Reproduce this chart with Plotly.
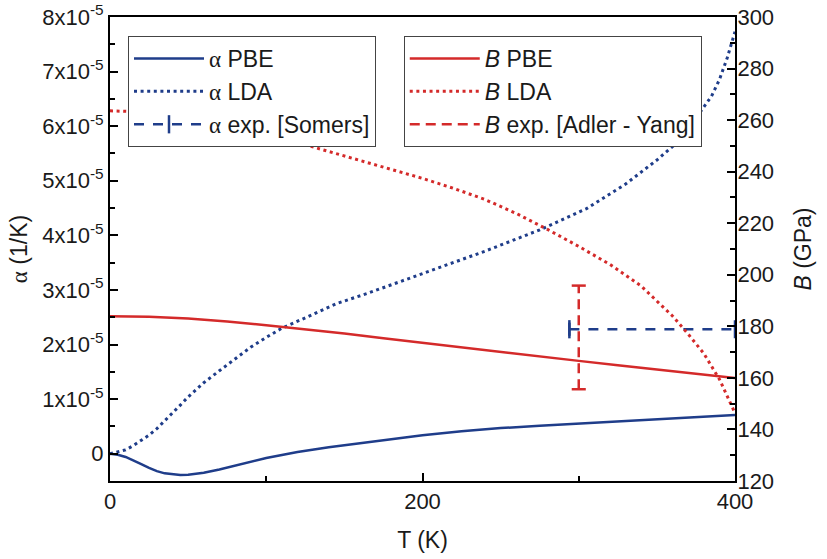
import plotly.graph_objects as go

# ---------------- data ----------------
T_pbe = [0, 5, 10, 15, 20, 25, 30, 35, 40, 45, 50, 55, 60, 70, 80, 90, 100, 120, 140, 160,
         180, 200, 225, 250, 275, 300, 325, 350, 375, 400]
alpha_pbe = [0, -0.02, -0.06, -0.12, -0.19, -0.26, -0.32, -0.36, -0.38, -0.39, -0.385, -0.37,
             -0.35, -0.29, -0.22, -0.15, -0.08, 0.03, 0.12, 0.19, 0.27, 0.34, 0.41, 0.47, 0.51,
             0.55, 0.59, 0.63, 0.67, 0.71]  # x1e-5 1/K

T_lda = [0, 5, 10, 15, 20, 25, 30, 35, 40, 45, 50, 55, 60, 70, 80, 90, 100, 110, 125, 145,
         165, 200, 240, 275, 305, 330, 350, 365, 375, 385, 390, 395, 400]
alpha_lda = [0, 0.03, 0.07, 0.15, 0.24, 0.34, 0.46, 0.60, 0.74, 0.89, 1.04, 1.17, 1.30, 1.52,
             1.74, 1.95, 2.13, 2.30, 2.49, 2.75, 2.94, 3.30, 3.71, 4.10, 4.49, 4.94, 5.38,
             5.75, 6.15, 6.55, 6.85, 7.25, 7.73]  # x1e-5 1/K

T_B_pbe = [0, 25, 50, 75, 100, 125, 150, 175, 200, 225, 250, 275, 300, 325, 350, 375, 400]
B_pbe = [183.9, 183.7, 183.0, 181.9, 180.4, 178.9, 177.2, 175.4, 173.6, 171.8, 170.1, 168.3,
         166.6, 164.9, 163.2, 161.6, 160.0]

T_B_lda = [0, 20, 40, 60, 80, 100, 120, 140, 160, 180, 200, 220, 240, 260, 280, 300, 320,
           340, 360, 370, 380, 390, 400]
B_lda = [263.6, 263.2, 262.0, 260.2, 257.8, 254.8, 251.3, 247.8, 244.4, 240.9, 237.4, 233.5,
         229.2, 223.8, 217.6, 211.0, 204.0, 195.6, 184.0, 177.0, 169.5, 159.5, 146.3]

# experimental
alpha_exp_T = [294, 400]
alpha_exp = [2.28, 2.28]          # x1e-5 1/K
alpha_exp_cap = [2.16, 2.40]
B_exp_T = 300
B_exp = 175.7
B_exp_err = 20.1

alpha_ticks = [0, 1, 2, 3, 4, 5, 6, 7, 8]
alpha_ticktext = ["0"] + ["%dx10<sup>-5</sup>" % v for v in alpha_ticks[1:]]
B_ticks = [120, 140, 160, 180, 200, 220, 240, 260, 280, 300]
T_ticks = [0, 200, 400]

# ---------------- style ----------------
BLUE = "#1f3d8a"
RED = "#d42a2a"
FONT = "Liberation Sans, Arial, sans-serif"
ALPHA = "<span style='font-family:Liberation Serif'>α</span>"
DOT = "3px,3.6px"

sc = 1e-5
fig = go.Figure()

fig.add_trace(go.Scatter(x=T_pbe, y=[v * sc for v in alpha_pbe], mode="lines",
                         line=dict(color=BLUE, width=2.5), name=ALPHA + " PBE", legend="legend"))
fig.add_trace(go.Scatter(x=T_lda, y=[v * sc for v in alpha_lda], mode="lines",
                         line=dict(color=BLUE, width=3, dash=DOT), name=ALPHA + " LDA",
                         legend="legend"))
fig.add_trace(go.Scatter(x=alpha_exp_T, y=[v * sc for v in alpha_exp], mode="lines+markers",
                         line=dict(color=BLUE, width=2.5, dash="10px,9px"),
                         marker=dict(symbol="line-ns", size=13,
                                     line=dict(color=BLUE, width=2.5)),
                         name=ALPHA + " exp. [Somers]", legend="legend"))
fig.add_trace(go.Scatter(x=[alpha_exp_T[0], alpha_exp_T[0]], y=[v * sc for v in alpha_exp_cap],
                         mode="lines", line=dict(color=BLUE, width=2.5), showlegend=False,
                         hoverinfo="skip"))

fig.add_trace(go.Scatter(x=T_B_pbe, y=B_pbe, mode="lines", yaxis="y2",
                         line=dict(color=RED, width=2.5), name="<i>B</i> PBE", legend="legend2"))
fig.add_trace(go.Scatter(x=T_B_lda, y=B_lda, mode="lines", yaxis="y2",
                         line=dict(color=RED, width=3, dash=DOT), name="<i>B</i> LDA",
                         legend="legend2"))
fig.add_trace(go.Scatter(x=[B_exp_T, B_exp_T], y=[B_exp - B_exp_err, B_exp + B_exp_err],
                         mode="lines", yaxis="y2",
                         line=dict(color=RED, width=2.5, dash="10px,6px"),
                         name="<i>B</i> exp. [Adler - Yang]", legend="legend2"))
capw = 4.5
fig.add_trace(go.Scatter(x=[B_exp_T - capw, B_exp_T + capw, None, B_exp_T - capw, B_exp_T + capw],
                         y=[B_exp + B_exp_err, B_exp + B_exp_err, None,
                            B_exp - B_exp_err, B_exp - B_exp_err],
                         mode="lines", yaxis="y2", line=dict(color=RED, width=2.5),
                         showlegend=False, hoverinfo="skip"))

axis_common = dict(showline=True, linewidth=2, linecolor="black", ticks="inside", ticklen=8,
                   tickwidth=2, tickcolor="black", showgrid=False, zeroline=False,
                   automargin=False,
                   tickfont=dict(family=FONT, size=22, color="#1a1a1a"))

fig.update_layout(
    width=827, height=559,
    margin=dict(l=110, r=92, t=17, b=78),
    plot_bgcolor="white", paper_bgcolor="white",
    font=dict(family=FONT, size=22, color="#1a1a1a"),
    xaxis=dict(range=[0, 400], tickmode="array", tickvals=T_ticks, mirror=True,
               minor=dict(tickmode="array", tickvals=[100, 300], ticks="inside", ticklen=5,
                          tickwidth=2, tickcolor="black"),
               title=dict(text="T (K)", font=dict(size=23), standoff=18), **axis_common),
    yaxis=dict(range=[-0.5e-5, 8e-5], tickmode="array", tickvals=[v * sc for v in alpha_ticks],
               ticktext=alpha_ticktext, mirror=True,
               minor=dict(tickmode="array", tickvals=[(v + 0.5) * sc for v in range(-1, 8)],
                          ticks="inside", ticklen=5, tickwidth=2, tickcolor="black"),
               title=dict(text=ALPHA + " (1/K)", font=dict(size=23), standoff=8), **axis_common),
    yaxis2=dict(range=[120, 300], overlaying="y", side="right", tickmode="array",
                tickvals=B_ticks, ticklabelstandoff=-4,
                minor=dict(tickmode="array", tickvals=[v + 10 for v in B_ticks[:-1]],
                           ticks="inside", ticklen=5, tickwidth=2, tickcolor="black"),
                title=dict(text="<i>B</i> (GPa)", font=dict(size=23), standoff=22),
                **axis_common),
    legend=dict(x=0.0288, y=0.959, xanchor="left", yanchor="top", bgcolor="white",
                bordercolor="#444", borderwidth=1, font=dict(size=23), itemwidth=70,
                tracegroupgap=0),
    legend2=dict(x=0.470, y=0.959, xanchor="left", yanchor="top", bgcolor="white",
                 bordercolor="#444", borderwidth=1, font=dict(size=23), itemwidth=70,
                 tracegroupgap=0),
    showlegend=True,
)

fig.write_html("out.html")
